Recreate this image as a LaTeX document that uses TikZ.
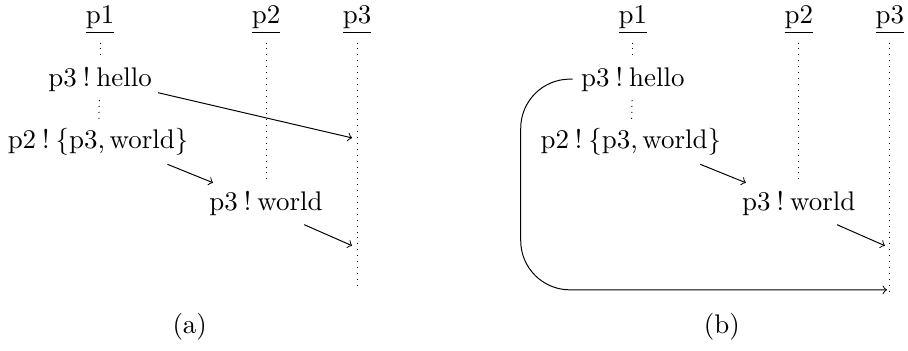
\documentclass[tikz,border=0pt]{standalone}
\usepackage{amsmath,amssymb}
\usepackage{tikz}

\begin{document}
\begin{tikzpicture}[
    every node/.style={font=\fontsize{10.95}{13.6}\selectfont},
    lifeline/.style={dotted},
    msg/.style={->},
  ]
  \useasboundingbox (0,0) rectangle (12.97,5.01);
  % (a)
  \begin{scope}
    \node (a-p1) at (1.43,4.73) {\underline{p1}};
    \node (a-p2) at (3.80,4.73) {\underline{p2}};
    \node (a-p3) at (5.10,4.73) {\underline{p3}};
    \node (a-hello) at (1.43,3.88) {p3\:!\:hello};
    \node (a-send) at (1.40,2.98) {p2\:!\:\{p3,\,world\}};
    \node (a-world) at (3.80,2.10) {p3\:!\:world};
    \coordinate (a-end) at (5.10,0.91);
    \coordinate (a-m1) at (5.03,3.04);
    \coordinate (a-m2) at (5.03,1.50);
    % lifelines
    \draw[lifeline] (a-p1) -- (a-hello);
    \draw[lifeline] (a-hello) -- (a-send);
    \draw[lifeline] (a-p2) -- (a-world);
    \draw[lifeline] (a-p3) -- (a-end);
    % messages
    \draw[msg] ([shift={(-1pt,3pt)}]a-hello.south east) -- (a-m1);
    \draw[msg] ([xshift=-12pt]a-send.south east) -- ([xshift=5pt]a-world.north west);
    \draw[msg] ([xshift=-11pt]a-world.south east) -- (a-m2);
    \node (a-cap) at (2.71,0.34) {(a)};
  \end{scope}
  % (b)
  \begin{scope}[xshift=7.61cm]
    \node (b-p1) at (1.43,4.73) {\underline{p1}};
    \node (b-p2) at (3.80,4.73) {\underline{p2}};
    \node (b-p3) at (5.10,4.73) {\underline{p3}};
    \node (b-hello) at (1.43,3.88) {p3\:!\:hello};
    \node (b-send) at (1.40,2.98) {p2\:!\:\{p3,\,world\}};
    \node (b-world) at (3.80,2.10) {p3\:!\:world};
    \coordinate (b-end) at (5.10,0.80);
    \coordinate (b-m2) at (5.03,1.50);
    \coordinate (b-m3) at (5.06,0.87);
    % lifelines
    \draw[lifeline] (b-p1) -- (b-hello);
    \draw[lifeline] (b-hello) -- (b-send);
    \draw[lifeline] (b-p2) -- (b-world);
    \draw[lifeline] (b-p3) -- (b-end);
    % messages
    \draw[msg, rounded corners=20pt] (b-hello.west) -- ++(-0.74,0) |- (b-m3);
    \draw[msg] ([xshift=-12pt]b-send.south east) -- ([xshift=5pt]b-world.north west);
    \draw[msg] ([xshift=-11pt]b-world.south east) -- (b-m2);
    \node (b-cap) at (2.70,0.34) {(b)};
  \end{scope}
\end{tikzpicture}
\end{document}
